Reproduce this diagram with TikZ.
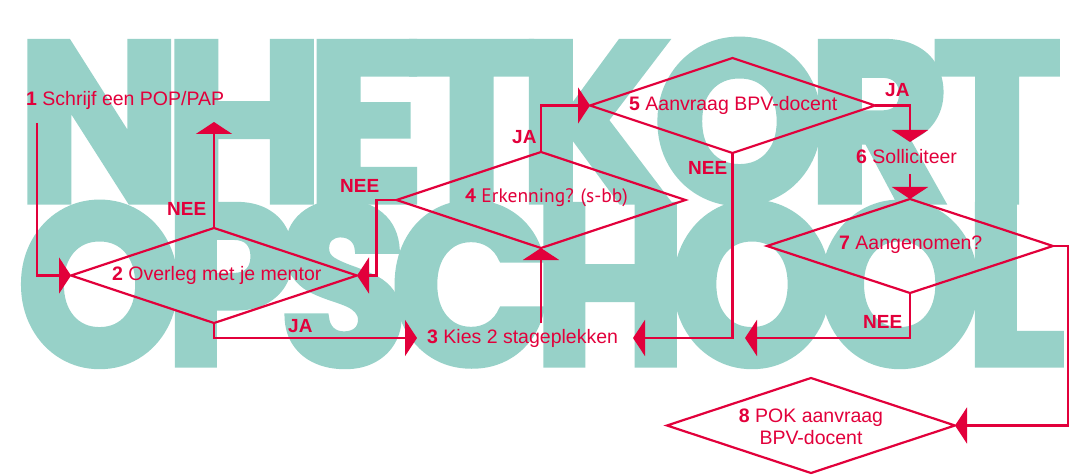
\documentclass[tikz,border=0pt]{standalone}
\usepackage{fontspec}
\usepackage{graphicx}
\usetikzlibrary{arrows.meta,shapes.geometric}
\setmainfont{Liberation Sans}
\newfontfamily\bigfont[LetterSpace=-8, FakeBold=3]{Poppins}
\newfontfamily\condfont{PT Sans}
\definecolor{bgteal}{HTML}{97D1C8}
\definecolor{flowred}{HTML}{E2003B}
\tikzset{
  dia/.style={draw=flowred, line width=2.2pt, shape=diamond, inner sep=0pt, outer sep=0pt},
  conn/.style={draw=flowred, line width=2.2pt},
  arr/.style={conn, -{Triangle[width=36pt,length=12pt]}},
  lbl/.style={text=flowred, font=\fontsize{19.5}{22}\selectfont, inner sep=0pt, anchor=base west},
  yn/.style={text=flowred, font=\fontsize{19}{22}\selectfont\bfseries, inner sep=0pt, anchor=base west},
  bigtxt/.style={text=bgteal, inner sep=0pt, anchor=south west},
}
\begin{document}
\begin{tikzpicture}[x=1pt,y=-1pt]
\fill[white] (0,0) rectangle (1072,476);
\useasboundingbox (0,0) rectangle (1072,476);
% background lettering
\node[bigtxt] (bgtop) at (17,203) {\resizebox{1043pt}{161pt}{\bigfont\bfseries NHETKORT}};
\node[bigtxt] (bgbot) at (17,366) {\resizebox{1046pt}{161pt}{\bigfont\bfseries OPSCHOOL}};
% diamonds
\node[dia, minimum width=286pt, minimum height=95pt] (d2) at (214,275.5) {};
\node[dia, minimum width=289pt, minimum height=96pt] (d4) at (541,200) {};
\node[dia, minimum width=285pt, minimum height=95pt] (d5) at (732.5,105.5) {};
\node[dia, minimum width=286pt, minimum height=94pt] (d7) at (910,246) {};
\node[dia, minimum width=288pt, minimum height=95pt] (d8) at (811,425.5) {};
% texts
\node[lbl] (t1) at (26,106) {\textbf{1} Schrijf een POP/PAP};
\node[lbl] (t2) at (112,280) {\textbf{2} Overleg met je mentor};
\node[lbl] (t3) at (427,343) {\textbf{3} Kies 2 stageplekken};
\node[lbl, font=\fontsize{19.5}{22}\condfont] (t4) at (465,203) {\textbf{4} Erkenning? (s-bb)};
\node[lbl] (t5) at (629,111) {\textbf{5} Aanvraag BPV-docent};
\node[lbl] (t6) at (856,164) {\textbf{6} Solliciteer};
\node[lbl] (t7) at (839,249) {\textbf{7} Aangenomen?};
\node[lbl, anchor=center, align=center] (t8) at (811,427) {\textbf{8} POK aanvraag\\BPV-docent};
% yes/no labels
\node[yn] (n2) at (167,215) {NEE};
\node[yn] (j2) at (288,332) {JA};
\node[yn] (n4) at (340,193) {NEE};
\node[yn] (j4) at (512,144) {JA};
\node[yn] (j5) at (885,97) {JA};
\node[yn] (n5) at (688,175) {NEE};
\node[yn] (n7) at (863,328) {NEE};
% connector end points
\coordinate (c1) at (37,123);
\coordinate (c2) at (214,122);
\coordinate (c3in) at (417,338);
\coordinate (c3up) at (541,323);
\coordinate (c6in) at (910,142);
\coordinate (c6out) at (910,174);
\coordinate (c3r1) at (633,338);
\coordinate (c3r2) at (745,338);
% connectors
\draw[arr] (c1) |- (d2.west);
\draw[arr] (d2.north) -- (c2);
\draw[arr] (d2.south) |- (c3in);
\draw[arr] (c3up) -- (d4.south);
\draw[arr] (d4.west) -- ++(-20,0) |- (d2.east);
\draw[arr] (d4.north) |- (d5.west);
\draw[arr] (d5.east) -| (c6in);
\draw[arr] (c6out) -- (d7.north);
\draw[arr] (d5.south) |- (c3r1);
\draw[arr] (d7.south) |- (c3r2);
\draw[arr] (d7.east) -- ++(15,0) |- (d8.east);
\end{tikzpicture}
\end{document}
